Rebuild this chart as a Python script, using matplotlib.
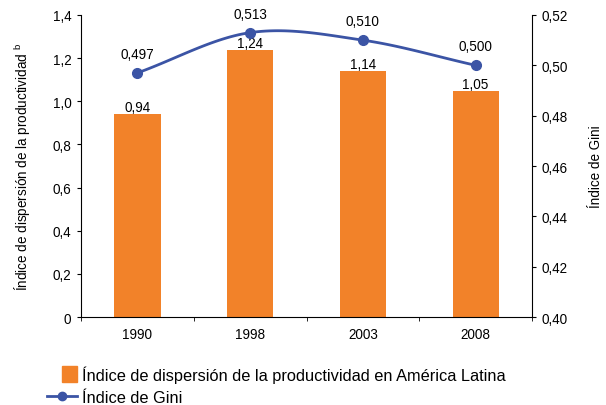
import numpy as np
import matplotlib.pyplot as plt
from matplotlib.patches import Rectangle, Patch
from matplotlib.lines import Line2D
from matplotlib.legend_handler import HandlerPatch

plt.rcParams['font.family'] = ['Liberation Sans', 'DejaVu Sans']
plt.rcParams['mathtext.fontset'] = 'custom'
plt.rcParams['mathtext.rm'] = 'Liberation Sans'

years = ['1990', '1998', '2003', '2008']
dispersion = [0.94, 1.24, 1.14, 1.05]
gini = [0.497, 0.513, 0.510, 0.500]
disp_labels = ['0,94', '1,24', '1,14', '1,05']
gini_labels = ['0,497', '0,513', '0,510', '0,500']

orange = '#F28229'
blue = '#3B54A5'
fs = 9.75


def smooth(xs, ys, n=30):
    # Catmull-Rom just for drawing the curve like Excel's smoothed line
    p = np.column_stack([xs, ys]).astype(float)
    p = np.vstack([2 * p[0] - p[1], p, 2 * p[-1] - p[-2]])
    out = []
    for i in range(1, len(p) - 2):
        t = np.linspace(0, 1, n)[:, None]
        p0, p1, p2, p3 = p[i - 1], p[i], p[i + 1], p[i + 2]
        c = 0.5 * ((2 * p1) + (-p0 + p2) * t + (2 * p0 - 5 * p1 + 4 * p2 - p3) * t ** 2
                   + (-p0 + 3 * p1 - 3 * p2 + p3) * t ** 3)
        out.append(c)
    out = np.vstack(out)
    return out[:, 0], out[:, 1]


fig = plt.figure(figsize=(6.06, 4.06), dpi=100)
ax = fig.add_axes([0.1337, 0.2167, 0.7443, 0.7439])
x = np.arange(len(years))
ax.bar(x, dispersion, width=0.41, color=orange, zorder=2)
ax.set_xlim(-0.5, 3.5)
ax.set_ylim(0, 1.4)
ax.set_yticks(np.arange(0, 1.41, 0.2))
ax.set_yticklabels(['0'] + [f'{v:.1f}'.replace('.', ',') for v in np.arange(0.2, 1.41, 0.2)])
ax.set_xticks(x)
ax.set_xticklabels(years)
ax.set_xticks(np.arange(-0.5, 4, 1), minor=True)
ax.tick_params(axis='x', which='major', length=0, pad=7)
ax.tick_params(axis='x', which='minor', length=3, direction='out')
ax.tick_params(axis='y', length=3, direction='out', pad=4)
ax.tick_params(labelsize=fs)
for s in ['top', 'right']:
    ax.spines[s].set_visible(False)
for i, v in enumerate(dispersion):
    ax.text(x[i], v, disp_labels[i], ha='center', va='bottom', fontsize=fs)
ax.set_ylabel('Índice de dispersión de la productividad $^{\\mathrm{b}}$', fontsize=fs)
ax.yaxis.set_label_coords(-0.106, 0.5)

ax2 = ax.twinx()
ax2.set_ylim(0.40, 0.52)
ax2.set_yticks(np.arange(0.40, 0.521, 0.02))
ax2.set_yticklabels([f'{v:.2f}'.replace('.', ',') for v in np.arange(0.40, 0.521, 0.02)])
ax2.tick_params(axis='y', length=3, direction='out', pad=4, labelsize=fs)
for s in ['top', 'left', 'bottom']:
    ax2.spines[s].set_visible(False)
# smooth in axis-fraction space
gy = (np.array(gini) - 0.40) / 0.12 * 4
sx, sy = smooth(x, gy)
ax2.plot(sx, sy / 4 * 0.12 + 0.40, color=blue, lw=2, zorder=3)
ax2.plot(x, gini, 'o', color=blue, ms=7, zorder=4)
for i, v in enumerate(gini):
    ax2.text(x[i], v + 0.0048, gini_labels[i], ha='center', va='bottom', fontsize=fs)
ax2.set_ylabel('Índice de Gini', fontsize=fs)
ax2.yaxis.set_label_coords(1.126, 0.5)


def square(legend, orig_handle, xdescent, ydescent, width, height, fontsize):
    s = height * 1.35
    return Rectangle((width - s, -ydescent + (height - s) / 2), s, s)


handles = [Patch(color=orange), Line2D([], [], color=blue, lw=2, marker='o', ms=6)]
fig.legend(handles, ['Índice de dispersión de la productividad en América Latina', 'Índice de Gini'],
           loc='upper left', bbox_to_anchor=(0.0776, 0.098), frameon=False, fontsize=11.8,
           handlelength=1.85, handletextpad=0.3, labelspacing=0.45, borderpad=0,
           borderaxespad=0, handler_map={Patch: HandlerPatch(patch_func=square)})

fig.savefig('out.png', dpi=100)
